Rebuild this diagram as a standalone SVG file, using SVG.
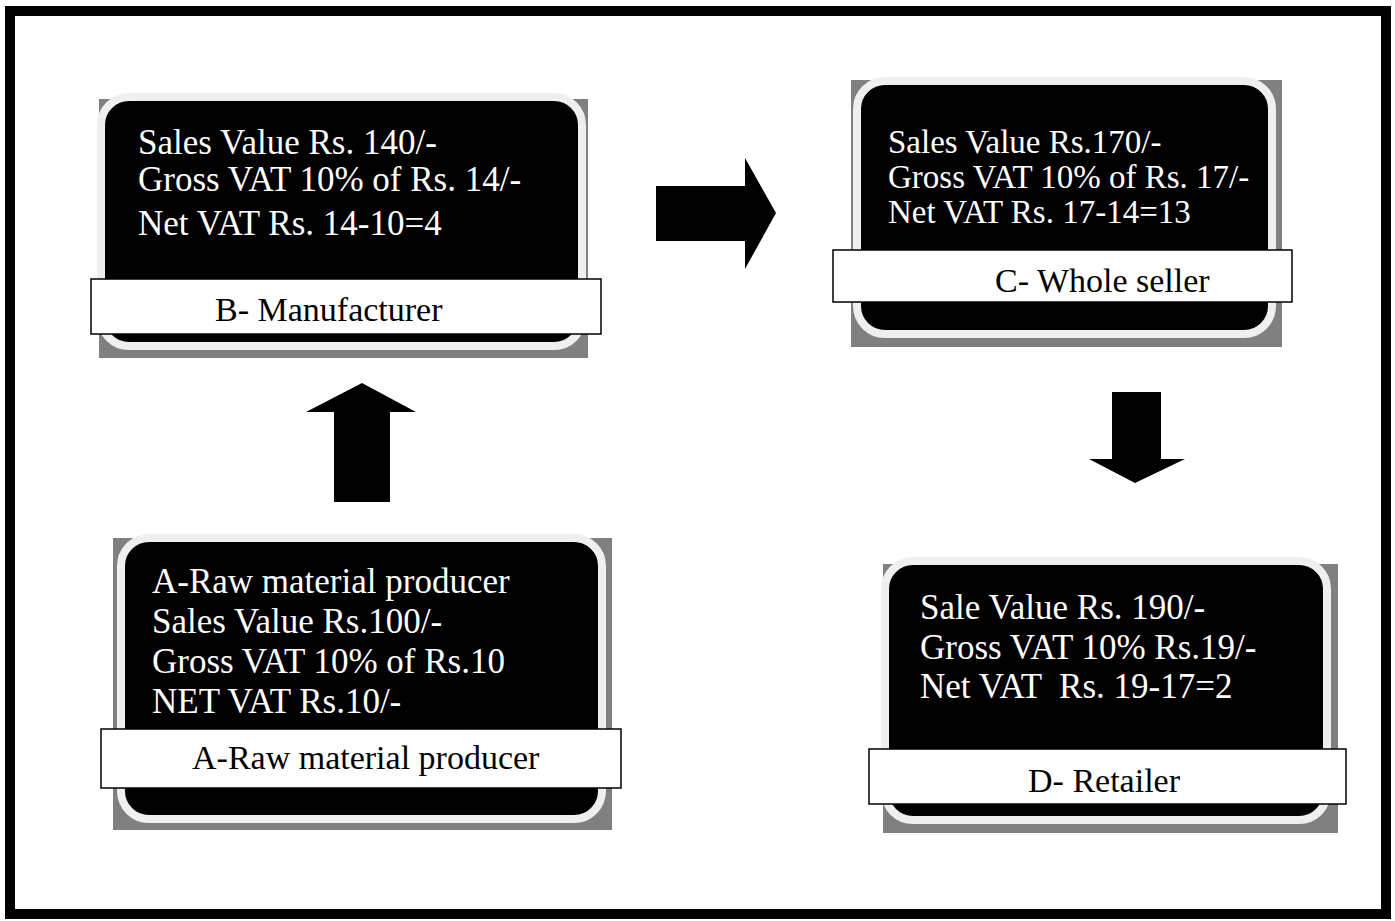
<svg xmlns="http://www.w3.org/2000/svg" width="1395" height="921" viewBox="0 0 1395 921">
<style>
.frame{fill:#ffffff;stroke:#000000;stroke-width:10}
.shadow{fill:#808080}
.body{fill:#000000;stroke:#efefef;stroke-width:8}
.label{fill:#ffffff;stroke:#000000;stroke-width:1.5}
.t{font-family:"Liberation Serif","Times New Roman",serif;font-size:35px;white-space:pre}
.s{font-size:33px}
.l{font-family:"Liberation Serif","Times New Roman",serif;font-size:34px;white-space:pre;fill:#000000}
.w{fill:#ffffff}
.arrow{fill:#000000}
</style>
<rect class="frame" x="10" y="11" width="1376" height="903"/>
<g id="node-B">
<rect class="shadow" x="99" y="99" width="489" height="259"/>
<rect class="body" x="101" y="97" width="481" height="249" rx="28" ry="28"/>
<text class="t w" x="138" y="154">Sales Value Rs. 140/-</text>
<text class="t w" x="138" y="191">Gross VAT 10% of Rs. 14/-</text>
<text class="t w" x="138" y="235">Net VAT Rs. 14-10=4</text>
<rect class="label" x="91" y="279" width="510" height="55"/>
<text class="l" x="215" y="321">B- Manufacturer</text>
</g>
<g id="node-C">
<rect class="shadow" x="851" y="80" width="431" height="267"/>
<rect class="body" x="857" y="81" width="415" height="253" rx="28" ry="28"/>
<text class="t s w" x="888" y="153">Sales Value Rs.170/-</text>
<text class="t s w" x="888" y="188">Gross VAT 10% of Rs. 17/-</text>
<text class="t s w" x="888" y="223">Net VAT Rs. 17-14=13</text>
<rect class="label" x="833" y="250" width="459" height="52"/>
<text class="l" x="995" y="292">C- Whole seller</text>
</g>
<g id="node-A">
<rect class="shadow" x="113" y="538" width="499" height="292"/>
<rect class="body" x="121" y="538" width="481" height="281" rx="28" ry="28"/>
<text class="t w" x="152" y="593">A-Raw material producer</text>
<text class="t w" x="152" y="633">Sales Value Rs.100/-</text>
<text class="t w" x="152" y="673">Gross VAT 10% of Rs.10</text>
<text class="t w" x="152" y="713">NET VAT Rs.10/-</text>
<rect class="label" x="101" y="729" width="520" height="59"/>
<text class="l" x="192" y="769">A-Raw material producer</text>
</g>
<g id="node-D">
<rect class="shadow" x="883" y="564" width="455" height="269"/>
<rect class="body" x="885" y="561" width="442" height="259" rx="28" ry="28"/>
<text class="t w" x="920" y="619">Sale Value Rs. 190/-</text>
<text class="t w" x="920" y="659">Gross VAT 10% Rs.19/-</text>
<text class="t w" x="920" y="698">Net VAT  Rs. 19-17=2</text>
<rect class="label" x="869" y="749" width="477" height="55"/>
<text class="l" x="1028" y="792">D- Retailer</text>
</g>
<g id="connectors">
<polygon class="arrow" points="362,383 416,412 390,412 390,502 334,502 334,412 306,412"/>
<polygon class="arrow" points="656,186 745,186 745,158 776,213 745,269 745,241 656,241"/>
<polygon class="arrow" points="1112,392 1161,392 1161,459 1185,459 1135,483 1089,459 1112,459"/>
</g>
</svg>
